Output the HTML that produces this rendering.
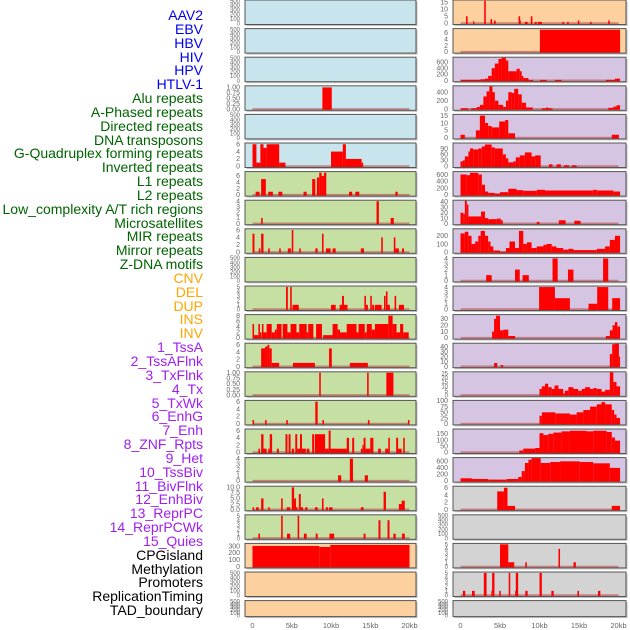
<!DOCTYPE html>
<html><head><meta charset="utf-8"><style>
body{margin:0;background:#fff;}
#wrap{position:relative;width:630px;height:630px;overflow:hidden;}
.lab{position:absolute;right:427px;font:14px "Liberation Sans",sans-serif;white-space:nowrap;line-height:14px;}
</style></head><body>
<div id="wrap">
<div id="labels"></div>
<svg id="svg" width="630" height="630" style="position:absolute;left:0;top:0"></svg>
</div>
<script>
const trackNames = ["AAV2","EBV","HBV","HIV","HPV","HTLV-1","Alu repeats","A-Phased repeats","Directed repeats","DNA transposons","G-Quadruplex forming repeats","Inverted repeats","L1 repeats","L2 repeats","Low_complexity A/T rich regions","Microsatellites","MIR repeats","Mirror repeats","Z-DNA motifs","CNV","DEL","DUP","INS","INV","1_TssA","2_TssAFlnk","3_TxFlnk","4_Tx","5_TxWk","6_EnhG","7_Enh","8_ZNF_Rpts","9_Het","10_TssBiv","11_BivFlnk","12_EnhBiv","13_ReprPC","14_ReprPCWk","15_Quies","CPGisland","Methylation","Promoters","ReplicationTiming","TAD_boundary"];
const groupColors = ["#0000ee","#006400","#ffa500","#a020f0","#000000"];
const groupSizes = [6,13,5,15,5];
const xTickLabels = ["0","5kb","10kb","15kb","20kb"];
const xTickValues = [0,5,10,15,20];
const E = ["0","100","200","300","400","500"];
const T6 = ["0","2","4","6"], T4=["0","1","2","3","4"], T5=["0","1","2","3","4","5"];
const leftTicks = [E,E,E,["0.00","0.25","0.50","0.75","1.00"],E,T6,T6,T4,T6,E,T5,["0","2","4","6","8"],T6,["0.00","0.25","0.50","0.75","1.00"],T6,T6,T4,["0.0","2.5","5.0","7.5","10.0"],T5,["0","100","200","300"],E,E];
const leftMax = [500,500,500,1.05,500,6.2,7.2,4.1,6.2,500,5.1,8.2,6.3,1.02,6.2,6.3,4.1,10.3,5.1,330,500,500];
const leftBars = [[],[],[],
[[8.9,10.1,1]],
[],
[[0,0.5,6],[0.5,1,1],[1,1.4,6],[1.4,1.8,5],[1.8,3.4,6],[3.4,4.2,1],[10,11.5,4],[11.5,11.9,6],[11.9,13.9,2],[13.9,14.1,1]],
[[0.4,0.9,1],[1.1,1.7,5],[2,2.6,1],[3.3,3.8,1],[6.5,6.9,1],[7.6,8,5],[8.2,8.5,5.5],[8.5,8.8,7],[8.8,9.1,6],[9.1,9.4,7],[12.3,12.7,1],[13.1,13.6,1],[18.2,18.5,1]],
[[1.1,1.3,1],[15.8,16.1,4],[17.6,18,1]],
[[0,0.25,5],[0.8,1.0,1],[1.1,1.4,5],[2.0,2.2,1],[3.4,3.6,1],[4.5,4.9,1],[5.0,5.2,6],[5.95,6.15,1],[8.0,8.3,1],[8.85,9.05,5],[9.35,9.95,1],[10.2,10.6,1],[13.8,14.2,1],[16.4,16.6,4],[18.0,18.2,4],[18.2,18.65,1],[19.05,19.3,1]],
[],
[[4.27,4.5,5],[4.8,5.0,5],[5.1,5.9,1],[10.0,10.6,1],[11.1,12.1,1],[11.4,11.65,3],[14.25,14.45,3],[14.45,14.7,1],[15.0,15.2,3],[15.25,15.5,1],[15.6,16.45,1],[16.75,16.95,3],[17.0,17.2,4],[17.2,17.5,1],[18.1,18.3,3],[18.65,19.3,1]],
[[0,0.2,5],[0.2,0.75,1],[0.75,0.95,5],[0.95,1.15,2],[1.2,1.4,5],[1.4,1.8,2],[1.8,2.45,5],[2.45,2.85,2],[2.85,3.1,3],[3.1,3.7,5],[3.85,4.45,5],[4.45,4.85,2],[4.85,5.6,5],[5.6,5.95,2],[5.95,6.9,5],[6.9,7.1,2],[7.1,7.75,5],[8.1,8.85,5],[9.0,10.2,1],[10.2,10.85,5],[10.85,11.15,3],[11.15,12.0,2],[12.0,13.25,5],[13.25,13.5,2],[13.5,14.3,5],[14.3,14.55,2],[14.55,15.2,5],[15.2,15.6,3],[15.6,17.3,5],[17.3,17.85,8],[17.85,18.35,5],[18.35,18.8,2],[18.8,19.2,5],[19.2,19.9,2]],
[[1.1,1.6,5],[1.6,1.9,5.5],[1.9,2.15,6],[2.15,2.45,5],[2.45,3.4,1],[5.15,7.95,1],[9.75,10.1,5],[12.4,14.7,1]],
[[8.5,8.7,1],[14.6,14.8,1],[17.05,17.95,1]],
[[0,0.2,1],[1.6,1.8,1],[4.3,4.5,1],[8.0,8.3,6],[8.9,9.1,1],[14.7,14.9,1],[19.8,20,1]],
[[0.75,0.95,1],[1.1,1.4,5],[1.4,1.8,1],[2.0,2.2,1],[2.2,2.5,5],[3.1,3.35,1],[4.2,4.45,5],[4.6,4.85,5],[5.0,5.3,1],[5.45,5.7,5],[5.7,6.05,1],[6.05,6.3,5],[6.3,6.8,1],[6.9,7.25,1],[7.6,7.85,5],[7.95,9.25,5],[9.25,9.7,1],[9.7,9.95,6],[9.95,12.0,1],[12.0,12.3,4],[12.7,12.95,4],[13.8,14.0,1],[14.0,14.15,2],[14.15,14.4,4],[14.4,15.0,1],[15.0,15.4,4],[16.0,16.35,1],[16.9,17.3,1],[17.3,17.5,4],[18.3,18.55,4],[18.55,19.0,1],[19.2,19.4,4]],
[[10.9,11.3,1],[12.4,12.8,4],[14.3,14.7,1]],
[[0,0.2,1],[0.45,0.8,1],[1.1,1.4,5],[2.0,2.2,1],[3.65,3.85,5],[4.35,4.8,1],[5.0,5.3,10],[5.3,5.55,5],[5.55,5.75,1],[5.9,6.15,7],[6.15,6.45,1],[6.7,7.0,1],[7.95,8.3,1],[8.85,9.05,5],[9.35,9.6,1],[9.75,10.2,1],[13.8,14.15,1],[16.7,17.0,8],[18.65,19.0,2.5],[19.0,19.4,4]],
[[0.75,0.95,1],[3.65,3.85,5],[4.4,4.8,1],[5.75,5.95,5],[6.55,6.9,1],[8.05,8.3,1],[9.8,10.4,1],[14.15,14.4,1],[16.05,16.3,4],[17.2,17.45,4],[17.95,18.25,1],[19.05,19.4,1]],
[[0,8.5,300],[8.5,9.9,285],[9.9,20,315]],
[],[]];
const leftColors = ["#c8e4ec","#c8e4ec","#c8e4ec","#c8e4ec","#c8e4ec","#c8e4ec","#c6e0a4","#c6e0a4","#c6e0a4","#c6e0a4","#c6e0a4","#c6e0a4","#c6e0a4","#c6e0a4","#c6e0a4","#c6e0a4","#c6e0a4","#c6e0a4","#c6e0a4","#fdd09f","#fdd09f","#fdd09f"];

const rightTicks = [["0","5","10","15"],T6,["0","200","400","600"],["0","200","400"],["0","5","10","15"],["0","30","60","90"],["0","200","400","600"],["0","10","20","30","40"],["0","100","200"],T4,T4,["0","10","20","30"],["0","10","20","30","40"],["0","5","10","15","20","25"],["0","25","50","75","100"],["0","50","100","150"],["0","200","400","600"],T6,E,T5,T5,E];
const rightMax = [16.2,7.2,740,540,15.5,115,670,42,280,4.1,4.1,36,46,26,100,185,700,6.3,500,5.1,5.1,500];
const rightBars = [
[[0.7,0.9,5],[1.6,1.75,1.5],[3.0,3.2,16],[3.8,4.0,3],[4.25,4.45,2],[7.35,7.55,5],[7.55,7.65,2],[8.15,8.5,1],[8.9,9.1,5],[9.4,9.65,1],[9.8,10.3,1],[12.9,13.1,1],[13.5,13.7,1],[14.85,15.05,2],[16.4,16.6,1],[18.7,18.9,2]],
[[10.05,20.2,7]],
[[0,2.5,20],[2.5,3.1,40],[3.1,3.5,60],[3.5,3.95,150],[3.95,4.35,400],[4.35,4.8,550],[4.8,5.2,700],[5.2,5.75,740],[5.75,6.05,650],[6.05,7.1,300],[7.1,7.5,380],[7.5,7.75,300],[7.75,7.95,150],[7.95,8.6,80],[8.6,9.2,20],[10.05,10.9,20],[11.95,12.8,20],[18.4,19.55,20],[19.55,20.2,60]],
[[0,1.0,20],[1.35,2.05,20],[2.05,2.45,50],[2.45,2.9,100],[2.9,3.3,300],[3.3,3.65,420],[3.65,4.05,540],[4.05,4.35,400],[4.35,4.8,200],[4.8,5.4,100],[5.4,5.75,50],[5.75,6.05,200],[6.05,6.5,400],[6.5,6.8,380],[6.8,7.3,480],[7.3,7.75,350],[7.75,8.3,150],[8.3,9.15,40],[10.3,11.65,20],[10.9,11.1,40],[18.7,19.35,30],[19.35,19.75,60],[19.75,20.2,90]],
[[0,0.55,2],[1.95,2.45,5],[2.45,3.1,15],[3.1,3.5,10],[3.5,3.95,8],[3.95,4.9,7],[4.9,5.65,11],[5.65,6.05,12],[6.05,6.9,3],[19.15,20.05,2]],
[[0,0.3,25],[0.3,0.55,30],[0.55,1.0,50],[1.0,1.2,75],[1.2,1.6,90],[1.6,2.25,85],[2.25,2.7,90],[2.7,3.1,100],[3.1,3.95,110],[3.95,4.35,95],[4.35,5.35,90],[5.35,5.75,60],[5.75,6.05,40],[6.05,6.7,20],[6.7,7.0,25],[7.0,7.5,45],[7.5,8.15,55],[8.15,9.0,70],[9.0,9.45,50],[9.45,10.15,55],[11.2,11.65,10],[12.15,12.7,10],[13.1,13.75,5],[14.1,14.7,5]],
[[0,0.8,600],[0.8,1.2,580],[1.2,2.25,650],[2.25,2.7,600],[2.7,3.1,300],[3.1,3.5,100],[3.5,4.35,60],[4.35,5.0,40],[5.0,6.05,80],[6.05,7.1,180],[7.1,7.95,140],[7.95,9.65,120],[9.65,10.7,150],[10.7,16.8,130],[16.8,17.25,150],[17.25,19.35,130],[19.35,20.2,100]],
[[0,0.35,20],[0.35,0.55,18],[0.55,0.8,42],[0.8,1.0,35],[1.0,2.6,13],[2.6,3.1,22],[3.1,3.5,10],[3.5,4.6,8],[4.6,5.1,9],[5.1,5.35,6],[9.65,10.0,3],[12.45,13.3,6],[14.4,15.2,5]],
[[0,0.55,230],[0.55,1.0,250],[1.0,1.4,200],[1.4,1.85,100],[1.85,2.25,130],[2.25,2.55,200],[2.55,3.1,260],[3.1,3.5,200],[3.5,3.8,130],[3.8,4.15,70],[4.15,5.0,20],[5.0,5.75,5],[5.75,6.2,50],[6.2,6.9,130],[6.9,7.4,50],[7.4,7.95,260],[7.95,8.4,100],[8.4,9.0,120],[9.0,9.65,50],[9.65,10.5,70],[10.5,10.9,90],[10.9,11.55,100],[11.55,12.15,70],[12.15,13.0,50],[13.0,13.65,30],[13.65,14.3,40],[14.3,17.25,25],[17.25,18.3,40],[18.3,18.9,70],[18.9,19.55,150],[19.55,20.2,200]],
[[3.25,3.95,1],[6.9,7.5,2],[7.85,8.65,1],[11.65,12.3,4],[13.6,14.3,2],[18.05,18.7,4]],
[[9.95,11.95,4],[11.95,13.85,2],[16.2,17.3,1],[17.3,18.7,4],[19.2,20.2,2]],
[[4.0,4.25,10],[4.25,4.5,30],[4.5,5.0,35],[5.0,5.4,12],[5.4,6.05,13],[6.05,6.9,3],[18.4,18.9,3],[18.9,19.25,12],[19.25,19.55,20],[19.55,19.85,25],[19.85,20.2,18]],
[[4.25,4.65,7],[5.1,5.4,3],[18.9,19.2,25],[19.2,19.55,45],[19.55,20.05,47],[20.05,20.2,20]],
[[10.0,10.3,7],[10.3,10.7,10],[10.7,11.1,13],[11.1,11.55,9],[11.55,11.9,7],[11.9,12.4,11],[12.4,13.0,7],[13.0,13.2,2],[13.2,13.65,5],[13.65,14.3,9],[14.3,14.9,7],[14.9,15.35,5],[15.35,15.75,7],[15.75,16.4,9],[16.4,16.8,7],[16.8,17.25,8],[17.25,17.85,7],[17.85,18.3,4],[18.3,18.9,6],[18.9,19.35,27],[19.35,19.75,15],[19.75,20.2,10]],
[[10.0,10.3,35],[10.3,12.0,50],[12.0,13.85,45],[13.85,14.7,40],[14.7,15.55,50],[15.55,16.4,60],[16.4,17.25,75],[17.25,17.85,85],[17.85,18.3,95],[18.3,19.15,85],[19.15,19.45,60],[19.45,19.75,40],[19.75,20.2,25]],
[[7.45,7.95,15],[7.95,9.45,30],[9.45,10.0,35],[10.0,10.5,155],[10.5,11.1,140],[11.1,11.75,150],[11.75,12.8,160],[12.8,13.85,170],[13.85,15.95,175],[15.95,16.8,170],[16.8,18.5,175],[18.5,19.15,165],[19.15,19.55,120],[19.55,20.2,95]],
[[0,1.45,80],[1.45,3.5,60],[3.5,5.85,40],[5.85,7.3,60],[7.3,7.75,120],[7.75,8.15,300],[8.15,8.6,550],[8.6,9.0,650],[9.0,10.15,700],[10.15,11.35,550],[11.35,12.6,580],[12.6,15.1,600],[15.1,16.8,580],[16.8,18.9,540],[18.9,20.2,400]],
[[4.65,5.5,5],[5.5,5.95,6],[5.95,6.9,1],[19.15,20.2,1]],
[],
[[5.0,6.05,5],[6.05,6.8,1],[8.2,8.4,1],[12.4,12.6,4],[14.3,14.6,1]],
[[0.3,0.6,1],[1.45,1.8,1],[2.95,3.3,5],[3.9,4.0,1],[4.0,4.3,5],[4.9,5.1,1],[6.1,6.3,5],[6.9,7.0,1],[7.0,7.3,5],[8.2,8.5,1],[10.0,10.3,5],[11.5,11.8,1],[14.8,15.0,1],[17.4,17.7,1]],
[]];
const rightColors = ["#fdd09f","#fdd09f","#d5c5e3","#d5c5e3","#d5c5e3","#d5c5e3","#d5c5e3","#d5c5e3","#d5c5e3","#d5c5e3","#d5c5e3","#d5c5e3","#d5c5e3","#d5c5e3","#d5c5e3","#d5c5e3","#d5c5e3","#d3d3d3","#d3d3d3","#d3d3d3","#d3d3d3","#d3d3d3"];

const NS="http://www.w3.org/2000/svg";
const svg=document.getElementById('svg');
function mk(tag,attrs,parent){const e=document.createElementNS(NS,tag);for(const k in attrs)e.setAttribute(k,attrs[k]);(parent||svg).appendChild(e);return e;}

const labDiv=document.getElementById('labels');
let gi=0,cnt=0;
trackNames.forEach((n,i)=>{
  while(cnt>=groupSizes[gi]){gi++;cnt=0;}
  cnt++;
  const d=document.createElement('div');
  d.className='lab';
  d.style.top=(15+i*13.84-7)+'px';
  d.style.color=groupColors[gi];
  d.textContent=n;
  
  
  labDiv.appendChild(d);
});

const cols=[{x0:245,x1:416,z:252.5,k:7.85,tx:240,ticks:leftTicks,max:leftMax,bars:leftBars,colors:leftColors,name:'left'},
            {x0:453,x1:626,z:460.5,k:7.9,tx:448,ticks:rightTicks,max:rightMax,bars:rightBars,colors:rightColors,name:'right'}];
const PITCH=28.6;
cols.forEach(c=>{
  const xs=v=>c.z+v*c.k;
  for(let i=0;i<22;i++){
    const top=i*PITCH;
    const PH=(i===21)?16:24.5;
    const g=mk('g',{});
    
    
    mk('rect',{x:c.x0+1.5,y:top+1.5,width:c.x1-c.x0,height:PH,fill:'#c0c0c0'},g);
    mk('rect',{x:c.x0,y:top,width:c.x1-c.x0,height:PH,fill:c.colors[i]},g);
    const y0=top+PH-1.2, ys=v=>y0-v/c.max[i]*(y0-top-0.5);
    const bars=c.bars[i];
    if(bars.length){
      const bl=mk('line',{x1:xs(0),x2:xs(20),y1:y0,y2:y0,stroke:'rgba(190,60,60,0.55)','stroke-width':2},g);
      
      
    }
    bars.forEach(b=>{
      const yy=Math.max(ys(b[2]),top+0.5);
      const r=mk('rect',{x:xs(b[0]),y:yy,width:Math.max(xs(b[1])-xs(b[0]),0.8),height:y0+0.7-yy,fill:'#ff0000'},g);
      
      
    });
    mk('rect',{x:c.x0,y:top,width:c.x1-c.x0,height:PH,fill:'none',stroke:'#555','stroke-width':1},g);
    const small=c.ticks[i].length>5;
    c.ticks[i].forEach(t=>{
      const v=parseFloat(t);
      const tt=mk('text',{x:c.tx,y:ys(v)+2.3,'text-anchor':'end','font-family':'Liberation Sans, sans-serif','font-size':small?6:7,fill:'#666'},g);
      tt.textContent=t;
      
      
    });
  }
  xTickLabels.forEach((t,j)=>{
    const tt=mk('text',{x:xs(xTickValues[j]),y:628,'text-anchor':'middle','font-family':'Liberation Sans, sans-serif','font-size':7.5,fill:'#666'});
    tt.textContent=t;
    
    
  });
});
</script>
</body></html>
